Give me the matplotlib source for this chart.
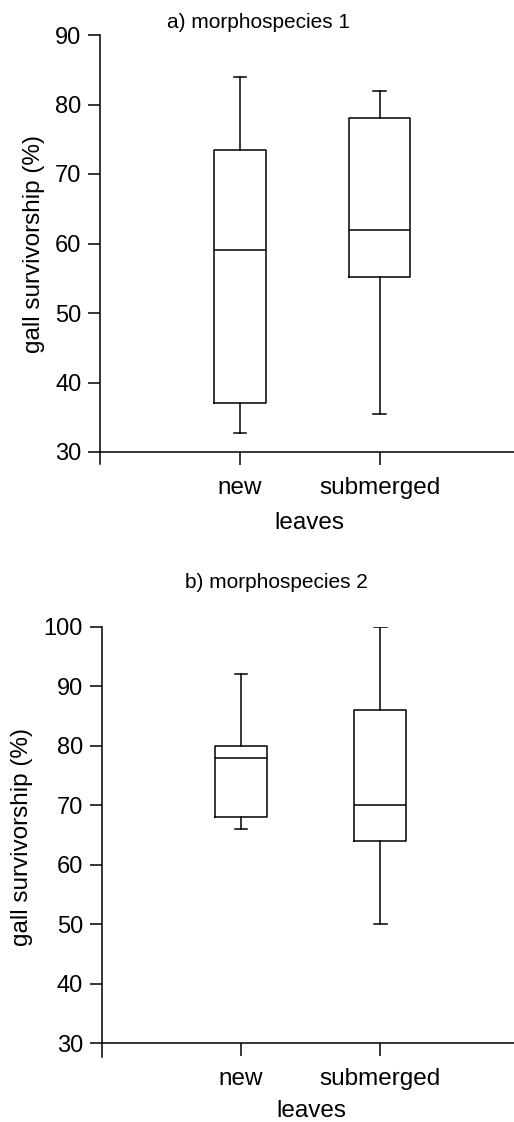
import numpy as np
from matplotlib import pyplot as plt

plt.rcParams['font.family'] = ['Liberation Sans', 'DejaVu Sans']

# box statistics
categories = ['new', 'submerged']

# a) morphospecies 1
a_whislo = [32.7, 35.5]
a_q1 = [37.0, 55.2]
a_med = [59.1, 62.0]
a_q3 = [73.4, 78.0]
a_whishi = [84.0, 82.0]

# b) morphospecies 2
b_whislo = [66.0, 50.0]
b_q1 = [68.0, 64.0]
b_med = [78.0, 70.0]
b_q3 = [80.0, 86.0]
b_whishi = [92.0, 100.0]

W, H = 514, 1122
fig = plt.figure(figsize=(W / 100, H / 100), dpi=100)


def make_stats(lo, q1, med, q3, hi):
    return [dict(whislo=lo[i], q1=q1[i], med=med[i], q3=q3[i], whishi=hi[i], fliers=[])
            for i in range(len(lo))]


def panel(rect, stats, widths, yticks, ylow):
    ax = fig.add_axes(rect)
    lw = 1.1
    ax.bxp(stats, positions=[1, 2], widths=widths, capwidths=0.09, showfliers=False,
           boxprops=dict(color='black', linewidth=lw),
           medianprops=dict(color='black', linewidth=lw),
           whiskerprops=dict(color='black', linewidth=lw),
           capprops=dict(color='black', linewidth=lw))
    ax.set_xlim(0, 2.96)
    ax.set_ylim(ylow, yticks[-1])
    ax.spines['top'].set_visible(False)
    ax.spines['right'].set_visible(False)
    ax.spines['bottom'].set_position(('data', yticks[0]))
    ax.spines['left'].set_linewidth(1.1)
    ax.spines['bottom'].set_linewidth(1.1)
    ax.set_yticks(yticks)
    ax.set_xticks([1, 2])
    ax.set_xticklabels(categories)
    ax.tick_params(axis='y', direction='out', length=9, width=1.1, pad=4.5, labelsize=17)
    ax.tick_params(axis='x', direction='out', length=9, width=1.1, pad=9, labelsize=17.5)
    return ax


# top panel: 90 at 35px, 30 at 452px, axis bottom 464px
panel([100 / W, 1 - 464 / H, 1 - 100 / W, (464 - 35) / H],
      make_stats(a_whislo, a_q1, a_med, a_q3, a_whishi),
      [0.374, 0.438], list(range(30, 91, 10)), 30 - 12 / 6.95)

# bottom panel: 100 at 627px, 30 at 1043px, axis bottom 1056px
panel([101.7 / W, 1 - 1056.5 / H, 1 - 101.7 / W, (1056.5 - 626.7) / H],
      make_stats(b_whislo, b_q1, b_med, b_q3, b_whishi),
      [0.374, 0.375], list(range(30, 101, 10)), 30 - 13.4 / 5.952)

fig.text(258.5 / W, 1 - 22.5 / H, 'a) morphospecies 1', ha='center', va='center', fontsize=15)
fig.text(276.7 / W, 1 - 582.5 / H, 'b) morphospecies 2', ha='center', va='center', fontsize=15)
fig.text(34 / W, 1 - 244 / H, 'gall survivorship (%)', rotation=90, ha='center', va='center', fontsize=17.5)
fig.text(22 / W, 1 - 837 / H, 'gall survivorship (%)', rotation=90, ha='center', va='center', fontsize=17.5)
fig.text(309 / W, 1 - 529 / H, 'leaves', ha='center', va='baseline', fontsize=17.5)
fig.text(311 / W, 1 - 1117 / H, 'leaves', ha='center', va='baseline', fontsize=17.5)

fig.savefig('out.png', dpi=100)
